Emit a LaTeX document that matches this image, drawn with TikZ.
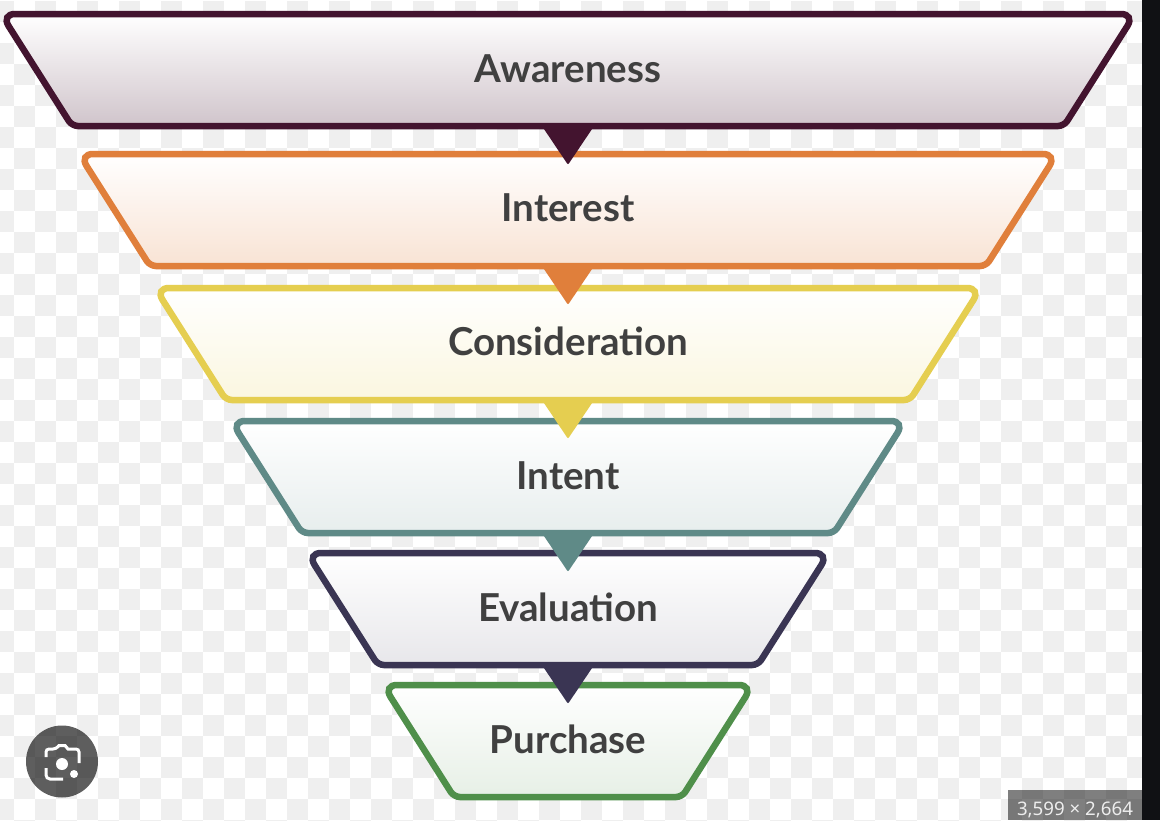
\documentclass[tikz,border=0pt]{standalone}
\usepackage{fontspec}
\setmainfont{Lato}
\newfontfamily\badgefont{Noto Sans}
\usetikzlibrary{calc}
\definecolor{plum}{HTML}{43142F}
\definecolor{carrot}{HTML}{E07F3B}
\definecolor{mustard}{HTML}{E5CE50}
\definecolor{teal}{HTML}{5F8A87}
\definecolor{navy}{HTML}{3A3553}
\definecolor{leaf}{HTML}{4F8F4A}
\definecolor{cell}{HTML}{EFEFEF}
\definecolor{ink}{HTML}{404040}
\definecolor{strip}{HTML}{101114}
\tikzset{stage/.style={line width=6.5pt, top color=white}}
\tikzset{wide/.style={rounded corners=14pt}, narrow/.style={rounded corners=6pt}}
\tikzset{label/.style={inner sep=0pt, text=ink, text height=26pt, text depth=0pt, font=\fontsize{38.5}{42}\selectfont\bfseries}}
\tikzset{pointer/.style={line width=2pt, line join=round}}
\begin{document}
\begin{tikzpicture}[x=1pt,y=-1pt]
\useasboundingbox (0,0) rectangle (1160,820);
\fill[white] (0,0) rectangle (1142,820);
\begin{scope}
\clip (0,0) rectangle (1142,820);
\foreach \i in {0,...,54} {
  \foreach \j in {0,...,39} {
    \pgfmathparse{int(mod(\i+\j,2))}
    \ifnum\pgfmathresult=0
      \fill[cell] (-7+21*\i,1+21*\j) rectangle (14+21*\i,22+21*\j);
    \fi
  }
}
\end{scope}
\fill[strip] (1142,0) rectangle (1160,820);

\draw[stage, draw=plum, bottom color=plum!25!white] (568,14) [wide] -- (1135,14) [narrow] -- (1064,126) -- (72,126) [wide] -- (1,14) -- cycle;
\draw[stage, draw=carrot, bottom color=carrot!22!white] (568,154) [wide] -- (1057,154) [narrow] -- (986,266) -- (150,266) [wide] -- (79,154) -- cycle;
\draw[stage, draw=mustard, bottom color=mustard!18!white] (568,288) [wide] -- (981,288) [narrow] -- (910,400) -- (226,400) [wide] -- (155,288) -- cycle;
\draw[stage, draw=teal, bottom color=teal!15!white] (568,421) [wide] -- (905,421) [narrow] -- (834,533) -- (302,533) [wide] -- (231,421) -- cycle;
\draw[stage, draw=navy, bottom color=navy!12!white] (568,553) [wide] -- (829,553) [narrow] -- (758,665) -- (378,665) [wide] -- (307,553) -- cycle;
\draw[stage, draw=leaf, bottom color=leaf!14!white] (568,685) [wide] -- (753,685) [narrow] -- (682,797) -- (454,797) [wide] -- (383,685) -- cycle;

\node[label] (awareness) at (568,69) {Awareness};
\node[label] (interest) at (568,208) {Interest};
\node[label] (consideration) at (568,342) {Consideration};
\node[label] (intent) at (568,476) {Intent};
\node[label] (evaluation) at (568,608) {Evaluation};
\node[label] (purchase) at (568,740) {Purchase};

\filldraw[pointer, draw=plum, fill=plum] ($(awareness)+(-23.5,59)$) -- ($(awareness)+(23.5,59)$) -- ($(awareness)+(0,94)$) -- cycle;
\filldraw[pointer, draw=carrot, fill=carrot] ($(interest)+(-23.5,60)$) -- ($(interest)+(23.5,60)$) -- ($(interest)+(0,95)$) -- cycle;
\filldraw[pointer, draw=mustard, fill=mustard] ($(consideration)+(-23.5,60)$) -- ($(consideration)+(23.5,60)$) -- ($(consideration)+(0,95)$) -- cycle;
\filldraw[pointer, draw=teal, fill=teal] ($(intent)+(-23.5,59)$) -- ($(intent)+(23.5,59)$) -- ($(intent)+(0,94)$) -- cycle;
\filldraw[pointer, draw=navy, fill=navy] ($(evaluation)+(-23.5,59)$) -- ($(evaluation)+(23.5,59)$) -- ($(evaluation)+(0,94)$) -- cycle;

\fill[black, opacity=0.63] (62,761.5) circle [radius=36];
\draw[white, line width=3pt] (46,757) -- (46,753) [rounded corners=3pt] -- (46,749) -- (56,749) [sharp corners] -- (59,745.5) -- (65,745.5) -- (68,749) [rounded corners=3pt] -- (79,749) -- (79,763);
\draw[white, line width=3pt, rounded corners=4pt] (46,768) -- (46,779) -- (63,779);
\fill[white] (62,764) circle [radius=6];
\fill[white] (74,774) circle [radius=4];

\fill[black, opacity=0.5] (1008,790) rectangle (1142,820);
\node[text=white!93!black, font=\badgefont\fontsize{18.7}{20}\selectfont, inner sep=0pt] (badge) at (1075,810) {3,599 × 2,664};
\end{tikzpicture}
\end{document}
